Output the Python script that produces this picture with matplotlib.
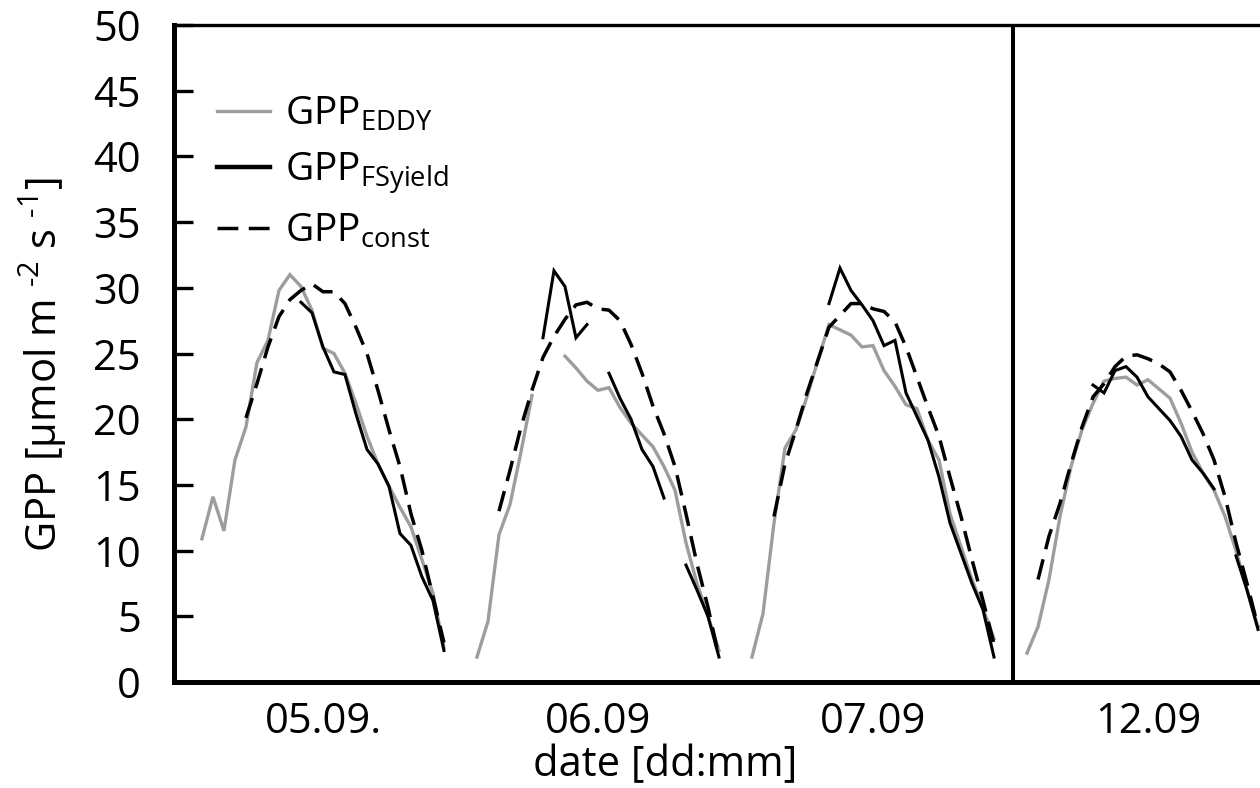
import numpy as np
import matplotlib
matplotlib.use("Agg")
import matplotlib.pyplot as plt
from matplotlib.lines import Line2D

plt.rcParams["font.family"] = ["Open Sans", "DejaVu Sans"]
plt.rcParams["mathtext.fontset"] = "custom"
plt.rcParams["mathtext.rm"] = "Open Sans"
plt.rcParams["mathtext.it"] = "Open Sans"
plt.rcParams["mathtext.default"] = "regular"

nan = np.nan

# measurement days shown side by side (nights removed)
dates = ["05.09.", "06.09", "07.09", "12.09"]
start_hour = 6.5        # first half-hourly value of each day
step_hours = 0.5
block_hours = 12.5      # width of one day block on the time axis
label_hour = 12.0       # date label sits at noon
separator_hour = 18.375  # break between 07.09 and the later 12.09
separator_block = 2

# GPP [umol m-2 s-1], half-hourly, per day
gpp_eddy = [
    [10.9, 14.1, 11.5, 16.9, 19.4, 24.3, 26.0, 29.8, 31.0, 30.1, 28.3, 25.4,
     25.0, 23.5, 21.2, 18.7, 16.6, 14.9, 13.3, 11.8, 9.3, 6.75, 2.6],
    [1.9, 4.6, 11.2, 13.5, 17.5, 21.8, nan, nan, 24.8, 23.9, 22.9, 22.2,
     22.4, 20.9, 19.7, 18.8, 17.9, 16.4, 14.6, 10.6, 7.5, 5.0, 2.4],
    [1.9, 5.2, 12.1, 17.8, 19.2, 21.7, 24.5, 27.2, 26.8, 26.4, 25.5, 25.6,
     23.7, 22.5, 21.1, 20.8, 18.4, 16.9, 12.8, 10.3, 7.8, 5.6, 3.3],
    [2.2, 4.2, 7.8, 12.6, 16.4, 19.2, 21.2, 22.9, 23.1, 23.2, 22.6, 23.0,
     22.3, 21.6, 19.7, 17.5, 15.9, 14.6, 12.6, 10.0, 7.0, 4.2],
]
gpp_fsyield = [
    [nan] * 9 + [28.9, 28.1, 25.5, 23.6, 23.4, 20.4, 17.7, 16.6, 14.9, 11.3,
                 10.4, 8.0, 6.2, 2.4],
    [nan] * 6 + [26.2, 31.3, 30.1, 26.2, 27.2, nan, 23.5, 21.6, 20.0, 17.7,
                 16.4, 14.0, nan, 8.9, 7.0, 5.0, 1.9],
    [nan] * 7 + [28.8, 31.5, 29.8, 28.7, 27.5, 25.6, 26.0, 22.0, 20.2, 18.4,
                 15.6, 12.1, 9.8, 7.5, 5.5, 1.9],
    [nan] * 6 + [22.6, 22.0, 23.7, 24.0, 23.2, 21.7, 20.8, 19.9, 18.7, 16.9,
                 15.9, 14.7, nan, 9.6, 7.0, 4.0],
]
gpp_const = [
    [nan] * 4 + [20.1, 22.7, 25.5, 27.8, 29.1, 29.8, 30.3, 29.7, 29.7, 28.8,
                 27.0, 25.0, 22.2, 19.2, 16.4, 12.8, 10.0, 6.5, 3.0],
    [nan] * 2 + [13.0, 16.1, 19.4, 22.2, 24.7, 26.3, 27.6, 28.7, 28.9, 28.4,
                 28.3, 27.5, 25.7, 23.5, 21.0, 18.9, 16.4, 12.8, 9.0, 5.7, 1.9],
    [nan] * 2 + [12.6, 16.6, 19.2, 22.0, 24.5, 27.0, 27.9, 28.8, 28.8, 28.4,
                 28.2, 27.4, 25.5, 23.2, 20.9, 18.7, 15.6, 12.6, 9.3, 6.2, 2.9],
    [nan] * 1 + [7.8, 11.1, 13.6, 16.6, 19.4, 21.7, 22.7, 24.0, 24.8, 24.9,
                 24.6, 24.2, 23.6, 22.2, 20.6, 18.9, 16.9, 14.1, 10.6, 7.5, 4.2],
]

y_ticks = list(range(0, 51, 5))


def axis_pos(block, hour):
    return block * block_hours + (np.asarray(hour) - start_hour)


def day_times(block, n):
    hours = start_hour + step_hours * np.arange(n)
    return axis_pos(block, hours)


fig = plt.figure(figsize=(12.6, 7.88), dpi=100)
ax = fig.add_axes([174 / 1260, 1 - 682 / 788, 1 - 174 / 1260, (682 - 25) / 788])

eddy_style = dict(color="#9d9d9d", lw=2.4, solid_joinstyle="miter")
fsy_style = dict(color="black", lw=2.2, solid_joinstyle="miter")
const_style = dict(color="black", lw=2.5, linestyle=(0, (6, 3)))

for b in range(len(dates)):
    ax.plot(day_times(b, len(gpp_eddy[b])), gpp_eddy[b], **eddy_style)
for b in range(len(dates)):
    ax.plot(day_times(b, len(gpp_const[b])), gpp_const[b], **const_style)
    ax.plot(day_times(b, len(gpp_fsyield[b])), gpp_fsyield[b], **fsy_style)

ax.axvline(axis_pos(separator_block, separator_hour), color="black", lw=2.9)

ax.set_xlim(axis_pos(0, start_hour - 1.27), axis_pos(0, start_hour + 48.09))
ax.set_ylim(0, 50)
ax.set_yticks(y_ticks)
ax.set_xticks([axis_pos(b, label_hour) for b in range(len(dates))])
ax.set_xticklabels(dates)

ax.tick_params(axis="y", direction="in", length=14, width=2.4, labelsize=30, pad=24)
ax.tick_params(axis="x", length=0, labelsize=30, pad=14)

ax.spines["right"].set_visible(False)
ax.spines["left"].set_linewidth(3.6)
ax.spines["bottom"].set_linewidth(3.6)
ax.spines["top"].set_linewidth(2.4)

ax.set_ylabel("GPP [µmol m $^{\u2010 2}$ s $^{\u2010 1}$]", fontsize=30)
ax.yaxis.set_label_coords(-0.097, 0.483)
ax.set_xlabel("date [dd:mm]", fontsize=30)
ax.xaxis.set_label_coords(0.452, -0.094)

handles = [Line2D([], [], **eddy_style),
           Line2D([], [], color="black", lw=3.2),
           Line2D([], [], **const_style)]
labels = ["GPP$_{EDDY}$", "GPP$_{FSyield}$", "GPP$_{const}$"]
ax.legend(handles, labels, loc="upper left", bbox_to_anchor=(0.0396, 0.893),
          frameon=False, fontsize=28, borderpad=0, borderaxespad=0,
          handlelength=1.36, handletextpad=0.39, labelspacing=0.42)

fig.savefig("out.png", dpi=100)
